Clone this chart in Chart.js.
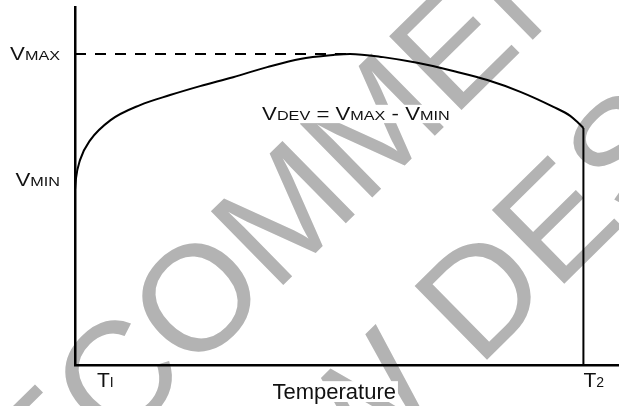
<!DOCTYPE html>
<html>
<head>
<meta charset="utf-8">
<script src="https://cdn.jsdelivr.net/npm/chart.js@4.4.1/dist/chart.umd.min.js"></script>
<style>
  html, body { margin: 0; padding: 0; background: #fff; }
  #wrap { width: 619px; height: 406px; }
</style>
</head>
<body>
<div id="wrap"><canvas id="devChart" width="619" height="406"></canvas></div>
<script>
// =====================
// DATA
// =====================
// temperature axis: T1 = 0, T2 = 100 (arbitrary units)
let tempX = [0, 0.2, 1, 3, 7, 12.8, 18.7, 24.6, 31.1, 37.8, 44.3, 50.8, 54.1, 60.6, 67.3, 74.4, 81.1, 87.6, 94.1, 97.4, 99, 100];
let voltY = [48.9, 52.2, 57.3, 62.8, 68.4, 72.6, 75.4, 77.9, 80.4, 83.2, 85.5, 86.6, 86.9, 86.0, 84.4, 82.1, 79.6, 76.3, 72.1, 69.6, 67.6, 66.2];

let yMarks = [48.9, 86.9];                  // VMIN, VMAX
let yMarkText = [["V", "MIN"], ["V", "MAX"]];
let xMarks = [0, 100];                      // T1, T2
let xMarkText = [["T", "I"], ["T", "2"]];
let peakT = 54.1;

let axisTitle = "Temperature";
let devText = [["V", 1], ["DEV", 0], [" = ", 1], ["V", 1], ["MAX", 0], [" - ", 1], ["V", 1], ["MIN", 0]];
let watermark = ["NOT RECOMMENDED", "FOR NEW DESIGNS"];

// =====================
// TEXT HELPERS
// =====================
const FONT = "'Liberation Sans', Arial, Helvetica, sans-serif";

function partsWidth(ctx, parts, big, small, stretch) {
    let w = 0;
    parts.forEach(p => {
        ctx.font = (p[1] ? big : small) + "px " + FONT;
        w += ctx.measureText(p[0]).width * stretch;
    });
    return w;
}

function drawParts(ctx, parts, x, y, big, small, stretch) {
    ctx.textBaseline = "alphabetic";
    ctx.textAlign = "left";
    parts.forEach(p => {
        ctx.font = (p[1] ? big : small) + "px " + FONT;
        ctx.save();
        ctx.translate(x, y);
        ctx.scale(stretch, 1);
        ctx.fillText(p[0], 0, 0);
        ctx.restore();
        x += ctx.measureText(p[0]).width * stretch;
    });
}

// every label: parts, left x, baseline y, sizes
function layoutLabels(chart) {
    let ctx = chart.ctx;
    let xs = chart.scales.x, ys = chart.scales.y;
    let out = [];

    // VMIN / VMAX, right aligned next to the y axis
    yMarks.forEach((v, i) => {
        let parts = yMarkText[i].map((t, k) => [t, k === 0 ? 1 : 0]);
        let w = partsWidth(ctx, parts, 18.5, 13.5, 1.2);
        let py = ys.getPixelForValue(v);
        let base = i === 1 ? py + 6 : py - 4;
        out.push({ parts, x: 60 - w, y: base, big: 18.5, small: 13.5, stretch: 1.2, w });
    });

    // T1 / T2 under the x axis
    xMarks.forEach((v, i) => {
        let parts = xMarkText[i].map((t, k) => [t, k === 0 ? 1 : 0]);
        let w = partsWidth(ctx, parts, 21, 14, 1);
        let px = xs.getPixelForValue(v) + (i === 0 ? 22 : 0);
        out.push({ parts, x: px, y: ys.bottom + 22, big: 21, small: 14, stretch: 1, w });
    });

    // axis title
    let tParts = [[axisTitle, 1]];
    let tw = partsWidth(ctx, tParts, 22, 22, 1);
    let cx = xs.getPixelForValue((xMarks[0] + xMarks[1]) / 2) + 5;
    out.push({ parts: tParts, x: cx - tw / 2, y: ys.bottom + 34, big: 22, small: 22, stretch: 1, w: tw });

    // VDEV = VMAX - VMIN
    let dw = partsWidth(ctx, devText, 18.5, 13.5, 1.2);
    out.push({ parts: devText, x: xs.getPixelForValue(36.8), y: ys.getPixelForValue(68.4), big: 18.5, small: 13.5, stretch: 1.2, w: dw });

    return out;
}

function drawWatermark(ctx) {
    let size = 150;
    let cap = size * 0.716;
    ctx.save();
    ctx.fillStyle = "#b3b3b3";
    ctx.font = size + "px " + FONT;
    ctx.textAlign = "left";
    ctx.textBaseline = "alphabetic";
    // origin on the centre of the first "C"
    ctx.translate(115, 375);
    ctx.rotate(-44.5 * Math.PI / 180);

    let x1 = -(ctx.measureText("NOT RE").width + ctx.measureText("C").width / 2);
    ctx.fillText(watermark[0], x1, cap / 2);

    let x2 = 318 - (ctx.measureText("FOR NEW ").width + ctx.measureText("D").width / 2);
    ctx.fillText(watermark[1], x2, 196 + cap / 2);
    ctx.restore();
}

// =====================
// PLUGIN
// =====================
const sketchPlugin = {
    id: "sketch",
    beforeDraw(chart) {
        let ctx = chart.ctx;
        ctx.save();
        ctx.fillStyle = "#fff";
        ctx.fillRect(0, 0, chart.width, chart.height);
        drawWatermark(ctx);

        // white patches so the watermark breaks around the labels
        ctx.fillStyle = "#fff";
        layoutLabels(chart).forEach(l => {
            let h = l.big * 0.72;
            ctx.fillRect(l.x - 2, l.y - h - 2, l.w + 4, h + 5);
        });
        ctx.restore();
    },
    afterDraw(chart) {
        let ctx = chart.ctx;
        ctx.save();
        ctx.fillStyle = "#111";
        layoutLabels(chart).forEach(l => {
            drawParts(ctx, l.parts, l.x, l.y, l.big, l.small, l.stretch);
        });
        ctx.restore();
    }
};

// =====================
// CHART
// =====================
let curve = tempX.map((t, i) => ({ x: t, y: voltY[i] }));
let lastT = tempX[tempX.length - 1];
let lastV = voltY[voltY.length - 1];

let devChart = new Chart(document.getElementById("devChart"), {
    type: "line",
    data: {
        datasets: [
            {
                data: curve,
                borderColor: "#000",
                borderWidth: 2,
                pointRadius: 0,
                cubicInterpolationMode: "monotone"
            },
            {
                data: [{ x: lastT, y: lastV }, { x: lastT, y: 0 }],
                borderColor: "#000",
                borderWidth: 2,
                pointRadius: 0
            },
            {
                data: [{ x: 0, y: yMarks[1] }, { x: peakT, y: yMarks[1] }],
                borderColor: "#000",
                borderWidth: 2,
                borderDash: [11, 9],
                pointRadius: 0
            }
        ]
    },
    options: {
        responsive: false,
        animation: false,
        events: [],
        layout: { padding: { left: 75, top: 7, right: 0, bottom: 41 } },
        plugins: { legend: { display: false }, tooltip: { enabled: false } },
        scales: {
            x: {
                type: "linear",
                min: 0,
                max: 107,
                ticks: { display: false },
                grid: { display: false, drawTicks: false, tickLength: 0 },
                border: { display: true, color: "#000", width: 2.5 }
            },
            y: {
                type: "linear",
                min: 0,
                max: 100,
                ticks: { display: false },
                grid: { display: false, drawTicks: false, tickLength: 0 },
                border: { display: true, color: "#000", width: 2.5 }
            }
        }
    },
    plugins: [sketchPlugin]
});
</script>
</body>
</html>
